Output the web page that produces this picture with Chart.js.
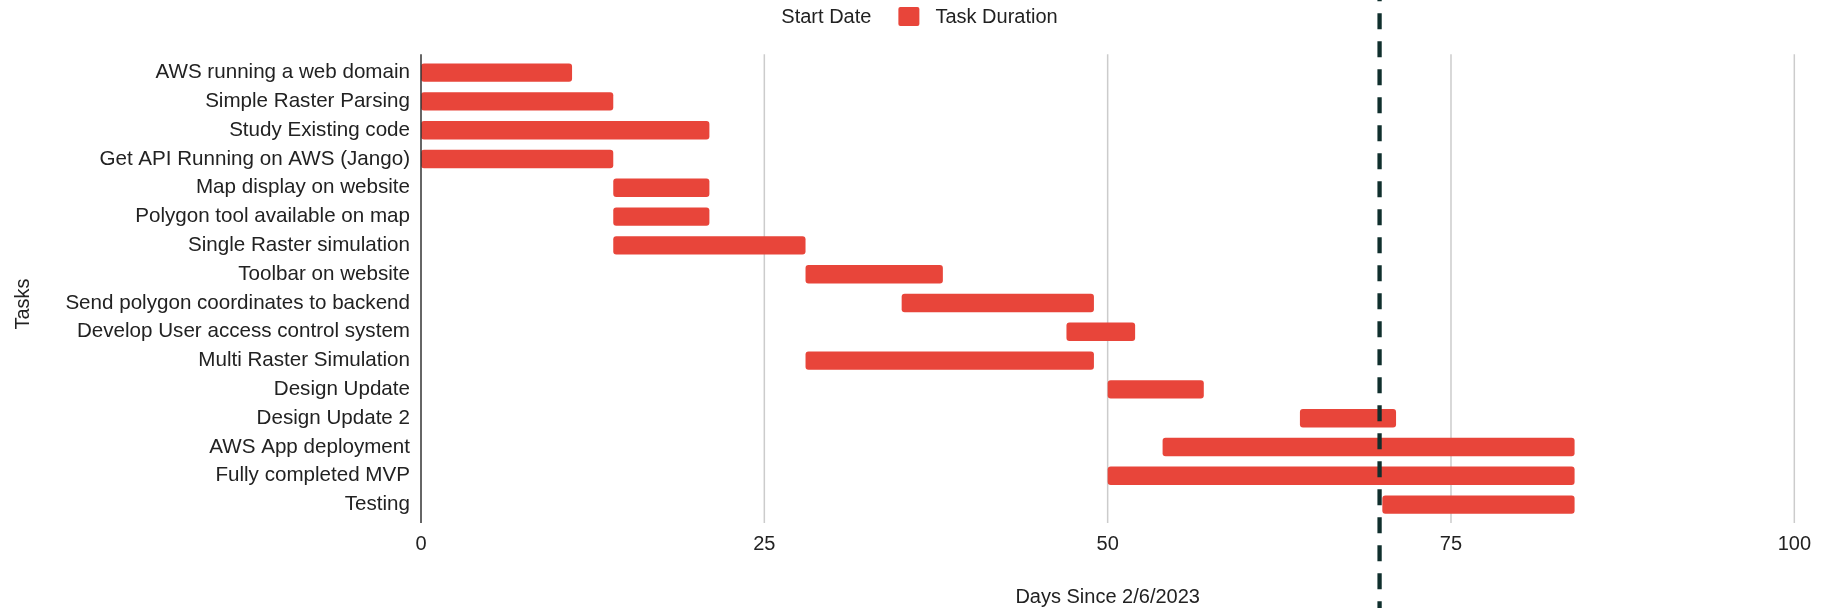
<!DOCTYPE html>
<html>
<head>
<meta charset="utf-8">
<title>Project Timeline</title>
<script src="https://cdn.jsdelivr.net/npm/chart.js@4"></script>
<style>
  html, body { margin: 0; padding: 0; background: #ffffff; }
  #wrap { width: 1824px; height: 608px; }
</style>
</head>
<body>
<div id="wrap"><canvas id="gantt" width="1824" height="608"></canvas></div>
<script>
// Task list, in schedule order (top to bottom)
const tasks = [
  'AWS running a web domain',
  'Simple Raster Parsing',
  'Study Existing code',
  'Get API Running on AWS (Jango)',
  'Map display on website',
  'Polygon tool available on map',
  'Single Raster simulation',
  'Toolbar on website',
  'Send polygon coordinates to backend',
  'Develop User access control system',
  'Multi Raster Simulation',
  'Design Update',
  'Design Update 2',
  'AWS App deployment',
  'Fully completed MVP',
  'Testing'
];

// Day each task starts, counted from 2/6/2023
const startDays = [0, 0, 0, 0, 14, 14, 14, 28, 35, 47, 28, 50, 64, 54, 50, 70];

// How many days each task runs
const durationDays = [11, 14, 21, 14, 7, 7, 14, 10, 14, 5, 21, 7, 7, 30, 34, 14];

// Day axis ticks
const dayTicks = [0, 25, 50, 75, 100];

// Current-day marker
const todayMark = 69.8;

const xTitle = 'Days Since 2/6/2023';
const yTitle = 'Tasks';

const FONT = "'Liberation Sans', Arial, Helvetica, sans-serif";
const TEXT = '#222222';
const BAR_RED = '#e8453a';

Chart.defaults.font.family = FONT;
Chart.defaults.font.size = 20;
Chart.defaults.color = TEXT;

// Vertical grid lines, the zero baseline and the dashed "today" marker
const timeGrid = {
  id: 'timeGrid',
  beforeDatasetsDraw(chart) {
    const { ctx, chartArea, scales: { x } } = chart;
    ctx.save();
    ctx.lineWidth = 1.5;
    ctx.strokeStyle = '#cccccc';
    x.ticks.forEach(t => {
      if (t.value === 0) return;
      const px = x.getPixelForValue(t.value);
      ctx.beginPath();
      ctx.moveTo(px, chartArea.top - 4);
      ctx.lineTo(px, chartArea.bottom + 4);
      ctx.stroke();
    });
    ctx.restore();
  },
  afterDatasetsDraw(chart) {
    const { ctx, chartArea, scales: { x } } = chart;
    ctx.save();
    const p0 = x.getPixelForValue(0);
    ctx.lineWidth = 1.5;
    ctx.strokeStyle = '#333333';
    ctx.beginPath();
    ctx.moveTo(p0, chartArea.top - 4);
    ctx.lineTo(p0, chartArea.bottom + 4);
    ctx.stroke();

    const pm = x.getPixelForValue(todayMark);
    ctx.lineWidth = 4.3;
    ctx.strokeStyle = '#102f2d';
    ctx.setLineDash([16, 12]);
    ctx.lineDashOffset = 14.7;
    ctx.beginPath();
    ctx.moveTo(pm, 0);
    ctx.lineTo(pm, chart.height);
    ctx.stroke();
    ctx.restore();
  }
};

// Legend row across the top, plus the rotated task-axis title
const headerLabels = {
  id: 'headerLabels',
  afterDraw(chart) {
    const { ctx } = chart;
    ctx.save();
    ctx.font = '20px ' + FONT;
    ctx.textBaseline = 'middle';
    ctx.textAlign = 'left';
    const boxW = 21, boxH = 19, textGap = 16, itemGap = 27;
    const items = chart.data.datasets.map(ds => ({
      text: ds.label,
      color: ds.backgroundColor,
      w: boxW + textGap + ctx.measureText(ds.label).width
    }));
    const total = items.reduce((s, it) => s + it.w, 0) + itemGap * (items.length - 1);
    let lx = chart.width / 2 - 11 - total / 2;
    items.forEach(it => {
      ctx.fillStyle = it.color;
      ctx.beginPath();
      ctx.roundRect(lx, 16.5 - boxH / 2, boxW, boxH, 2);
      ctx.fill();
      ctx.fillStyle = TEXT;
      ctx.fillText(it.text, lx + boxW + textGap, 17);
      lx += it.w + itemGap;
    });

    ctx.translate(23, chart.height / 2);
    ctx.rotate(-Math.PI / 2);
    ctx.textAlign = 'center';
    ctx.fillStyle = TEXT;
    ctx.fillText(yTitle, 0, 0);
    ctx.restore();
  }
};

new Chart(document.getElementById('gantt'), {
  type: 'bar',
  data: {
    labels: tasks,
    datasets: [
      {
        label: 'Start Date',
        data: startDays,
        backgroundColor: 'rgba(0,0,0,0)',
        borderWidth: 0
      },
      {
        label: 'Task Duration',
        data: durationDays,
        backgroundColor: BAR_RED,
        borderWidth: 0,
        borderSkipped: false,
        borderRadius: { topLeft: 3, topRight: 3, bottomLeft: 3, bottomRight: 3 }
      }
    ]
  },
  options: {
    indexAxis: 'y',
    responsive: false,
    animation: false,
    devicePixelRatio: 1,
    layout: { padding: { top: 58.2, right: 25.5, bottom: 0, left: 0 } },
    datasets: {
      bar: { barPercentage: 0.64, categoryPercentage: 1.0 }
    },
    plugins: {
      legend: { display: false },
      tooltip: { enabled: false }
    },
    scales: {
      x: {
        type: 'linear',
        stacked: true,
        min: 0,
        max: 100,
        afterBuildTicks(scale) {
          scale.ticks = dayTicks.map(v => ({ value: v }));
        },
        ticks: { padding: 13, color: TEXT, font: { size: 20 } },
        grid: { display: false, drawTicks: false, tickLength: 0 },
        border: { display: false },
        title: {
          display: true,
          text: xTitle,
          color: TEXT,
          font: { size: 20 },
          padding: { top: 16.5, bottom: -1.5 }
        }
      },
      y: {
        type: 'category',
        stacked: true,
        ticks: { padding: 11, color: TEXT, font: { size: 20.6 }, autoSkip: false },
        grid: { display: false, drawTicks: false, tickLength: 0 },
        border: { display: false },
        afterFit(scale) { scale.width = 421; }
      }
    }
  },
  plugins: [timeGrid, headerLabels]
});
</script>
</body>
</html>
